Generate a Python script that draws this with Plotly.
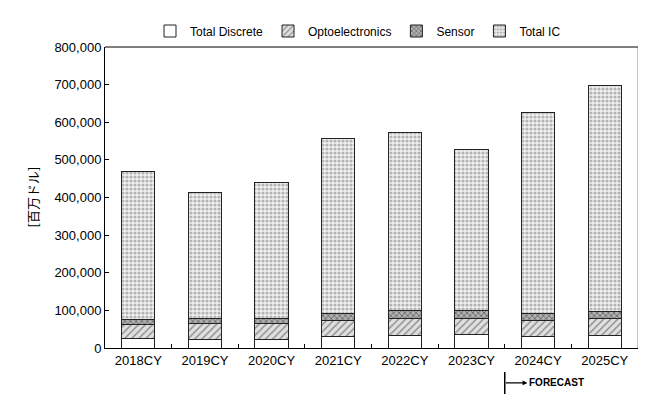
import plotly.graph_objects as go

categories = ["2018CY", "2019CY", "2020CY", "2021CY", "2022CY", "2023CY", "2024CY", "2025CY"]
total_discrete = [24102, 23881, 23804, 30337, 33993, 35530, 30500, 32400]
optoelectronics = [38032, 41561, 40397, 43404, 43908, 43184, 43800, 45100]
sensor = [13356, 13511, 14962, 19149, 21782, 19730, 18200, 20500]
total_ic = [393288, 333354, 361226, 463002, 474402, 428961, 534400, 599200]
y_ticks = [0, 100000, 200000, 300000, 400000, 500000, 600000, 700000, 800000]
y_title = "[百万ドル]"

FONT = "Liberation Sans, Arial, sans-serif"
W, H = 638, 405  # page body adds an 8px offset
fig = go.Figure()

def add(name, vals, pattern):
    fig.add_trace(go.Bar(
        x=categories, y=vals, name=name,
        marker=dict(color="white", line=dict(color="#222", width=1), pattern=pattern),
        width=0.5,
    ))

add("Total Discrete", total_discrete, dict(shape=""))
add("Optoelectronics", optoelectronics, dict(shape="/", fgcolor="#444", bgcolor="#e0e0e0", size=5, solidity=0.3))
add("Sensor", sensor, dict(shape="x", fgcolor="#222", bgcolor="#b0b0b0", size=4, solidity=0.4))
add("Total IC", total_ic, dict(shape=".", fgcolor="#777", bgcolor="#f0f0f0", size=4, solidity=0.5))

fig.update_layout(
    barmode="stack",
    width=W, height=H,
    margin=dict(l=97, r=8, t=39, b=65, autoexpand=False),
    paper_bgcolor="white", plot_bgcolor="white",
    font=dict(family=FONT, size=13, color="black"),
    legend=dict(orientation="h", x=(358 - 8) / W, xref="container", xanchor="center",
                y=1 - (31 - 8) / H, yref="container", yanchor="middle",
                font=dict(size=12, color="black"), itemwidth=30, traceorder="normal",
                tracegroupgap=0, bgcolor="rgba(0,0,0,0)"),
    showlegend=True,
    xaxis=dict(type="category", showline=True, linecolor="black", linewidth=1,
               ticks="inside", tickson="boundaries", ticklen=4, tickcolor="black",
               mirror=False, tickfont=dict(size=13, color="black"), automargin=False),
    yaxis=dict(range=[0, 800000], tickvals=y_ticks, tickformat=",d",
               showline=True, linecolor="black", linewidth=1, ticks="inside", ticklen=4,
               tickcolor="black", showgrid=False, zeroline=False,
               tickfont=dict(size=13, color="black"), automargin=False),
)
fig.add_annotation(xref="paper", yref="paper", x=(32 - 105) / 533, y=0.5, text=y_title,
                   textangle=-90, showarrow=False, xanchor="center", yanchor="middle",
                   font=dict(size=13, family="Noto Sans CJK JP", color="black"))
# top and right borders
fig.add_shape(type="line", xref="paper", yref="paper", x0=0, x1=1, y0=1, y1=1, line=dict(color="black", width=1))
fig.add_shape(type="line", xref="paper", yref="paper", x0=1, x1=1, y0=0, y1=1, line=dict(color="#888", width=1))

# forecast marker
fig.add_shape(type="line", xref="x", yref="paper", x0=5.5, x1=5.5, y0=-0.08, y1=-0.153, line=dict(color="black", width=1.5))
fig.add_annotation(xref="x", yref="paper", x=5.84, y=-0.116, ax=-23, ay=0, axref="pixel", ayref="pixel",
                   showarrow=True, arrowhead=2, arrowsize=0.8, arrowwidth=1.2, arrowcolor="black", text="")
fig.add_annotation(xref="x", yref="paper", x=5.84, y=-0.116, xanchor="left", yanchor="middle",
                   text="<b>FORECAST</b>", showarrow=False, font=dict(size=10, family=FONT, color="black"))

fig.write_html("out.html")
